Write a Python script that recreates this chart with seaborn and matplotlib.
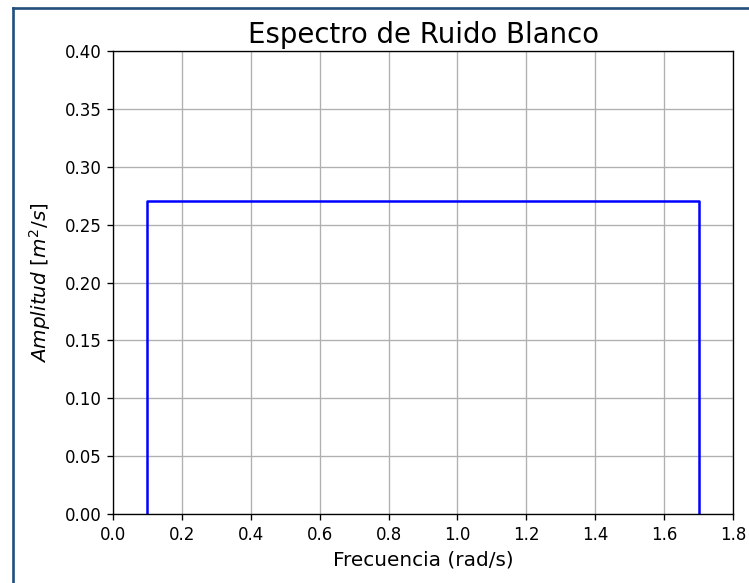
import matplotlib
matplotlib.use("Agg")
import matplotlib.pyplot as plt
from matplotlib.lines import Line2D
import pandas as pd
import seaborn as sns

# White-noise spectrum: flat amplitude between the cut-off frequencies
frecuencia = [0.1, 0.1, 1.7, 1.7]
amplitud = [0.0, 0.27, 0.27, 0.0]

x_ticks = [0.0, 0.2, 0.4, 0.6, 0.8, 1.0, 1.2, 1.4, 1.6, 1.8]
y_ticks = [0.00, 0.05, 0.10, 0.15, 0.20, 0.25, 0.30, 0.35, 0.40]

df = pd.DataFrame({"frecuencia": frecuencia, "amplitud": amplitud})

W, H, DPI = 749, 583, 120
fig = plt.figure(figsize=(W / DPI, H / DPI), dpi=DPI)
ax = fig.add_axes([113 / W, 1 - 514 / H, (733 - 113) / W, (514 - 51) / H])

sns.lineplot(data=df, x="frecuencia", y="amplitud", sort=False, estimator=None,
             color="blue", linewidth=1.5, ax=ax)

ax.set_xlim(0.0, 1.8)
ax.set_ylim(0.0, 0.4)
ax.set_xticks(x_ticks)
ax.set_yticks(y_ticks)
ax.set_xticklabels([f"{v:.1f}" for v in x_ticks])
ax.set_yticklabels([f"{v:.2f}" for v in y_ticks])
ax.tick_params(labelsize=10)
ax.grid(True, color="#b0b0b0", linewidth=0.8)
ax.set_axisbelow(True)

ax.set_title("Espectro de Ruido Blanco", fontsize=16.5, pad=5)
ax.set_xlabel("Frecuencia (rad/s)", fontsize=12)
ax.set_ylabel(r"$Amplitud\ [m^2/s]$", fontsize=12, labelpad=7)

# Frame lines around the figure (left and top edges)
frame_color = "#24507e"
fig.add_artist(Line2D([12.5 / W, 12.5 / W], [0, 1 - 7.5 / H], transform=fig.transFigure,
                      color=frame_color, linewidth=1.6))
fig.add_artist(Line2D([12.5 / W, 1], [1 - 7.5 / H, 1 - 7.5 / H], transform=fig.transFigure,
                      color=frame_color, linewidth=1.6))

fig.savefig("out.png", dpi=DPI)
